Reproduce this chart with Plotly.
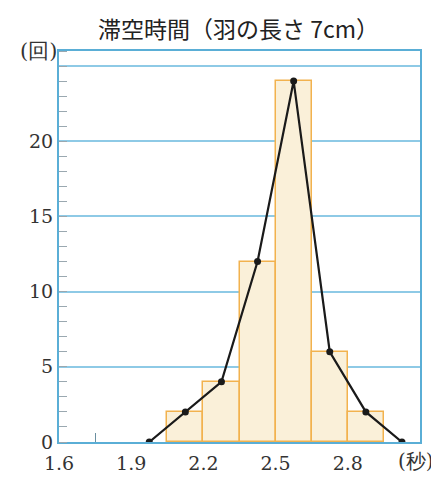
import plotly.graph_objects as go

bin_centers = [2.125, 2.275, 2.425, 2.575, 2.725, 2.875]
counts = [2, 4, 12, 24, 6, 2]
poly_x = [1.975, 2.125, 2.275, 2.425, 2.575, 2.725, 2.875, 3.025]
poly_y = [0, 2, 4, 12, 24, 6, 2, 0]
x_ticks = [1.6, 1.9, 2.2, 2.5, 2.8]
y_ticks = [0, 5, 10, 15, 20, 25]
y_labels = ["0", "5", "10", "15", "20", ""]

grid_c = "#8ecae6"
axis_c = "#5aaed6"

fig = go.Figure()
fig.add_trace(go.Bar(x=bin_centers, y=counts, width=0.15,
                     marker=dict(color="#faf0d9", line=dict(color="#f2b24e", width=1.5)),
                     showlegend=False, hoverinfo="skip"))
fig.add_trace(go.Scatter(x=poly_x, y=poly_y, mode="lines+markers",
                         line=dict(color="#1a1a1a", width=2.2),
                         marker=dict(color="#1a1a1a", size=7),
                         showlegend=False))

serif = "DejaVu Serif"
fig.update_layout(
    width=439, height=481,
    margin=dict(l=51, r=27, t=43, b=47),
    paper_bgcolor="white", plot_bgcolor="white",
    bargap=0,
    title=dict(text="滞空時間（羽の長さ 7cm）", x=0.525, xanchor="center", y=0.955, yanchor="middle",
               font=dict(family="Noto Sans CJK JP", size=23, color="#222")),
    xaxis=dict(range=[1.6, 3.1], tickvals=x_ticks, ticktext=[str(v) for v in x_ticks],
               showgrid=False, zeroline=False, showline=True, linecolor=axis_c, linewidth=2,
               mirror=True, ticks="", ticklabelstandoff=3,
               tickfont=dict(family=serif, size=19, color="#333"),
               minor=dict(tickvals=[1.75], ticks="inside", ticklen=9, tickcolor="#6a8fa0", tickwidth=1)),
    yaxis=dict(range=[0, 26], tickvals=y_ticks, ticktext=y_labels,
               showgrid=True, gridcolor=grid_c, gridwidth=1.5, zeroline=False,
               showline=True, linecolor=axis_c, linewidth=2, mirror=True, ticks="",
               tickfont=dict(family=serif, size=19, color="#333"),
               minor=dict(dtick=1, ticks="inside", ticklen=8, tickcolor="#9aa8b0", tickwidth=1, showgrid=False)),
)
fig.add_annotation(text="(回)", xref="paper", yref="paper", x=0.0, y=1.0, xanchor="right", yanchor="middle",
                   showarrow=False, font=dict(family=serif, size=21, color="#333"))
fig.add_annotation(text="(秒)", xref="paper", yref="paper", x=1.045, y=-0.012, xanchor="right", yanchor="top",
                   showarrow=False, font=dict(family=serif, size=20, color="#333"))
fig.write_html("out.html")
